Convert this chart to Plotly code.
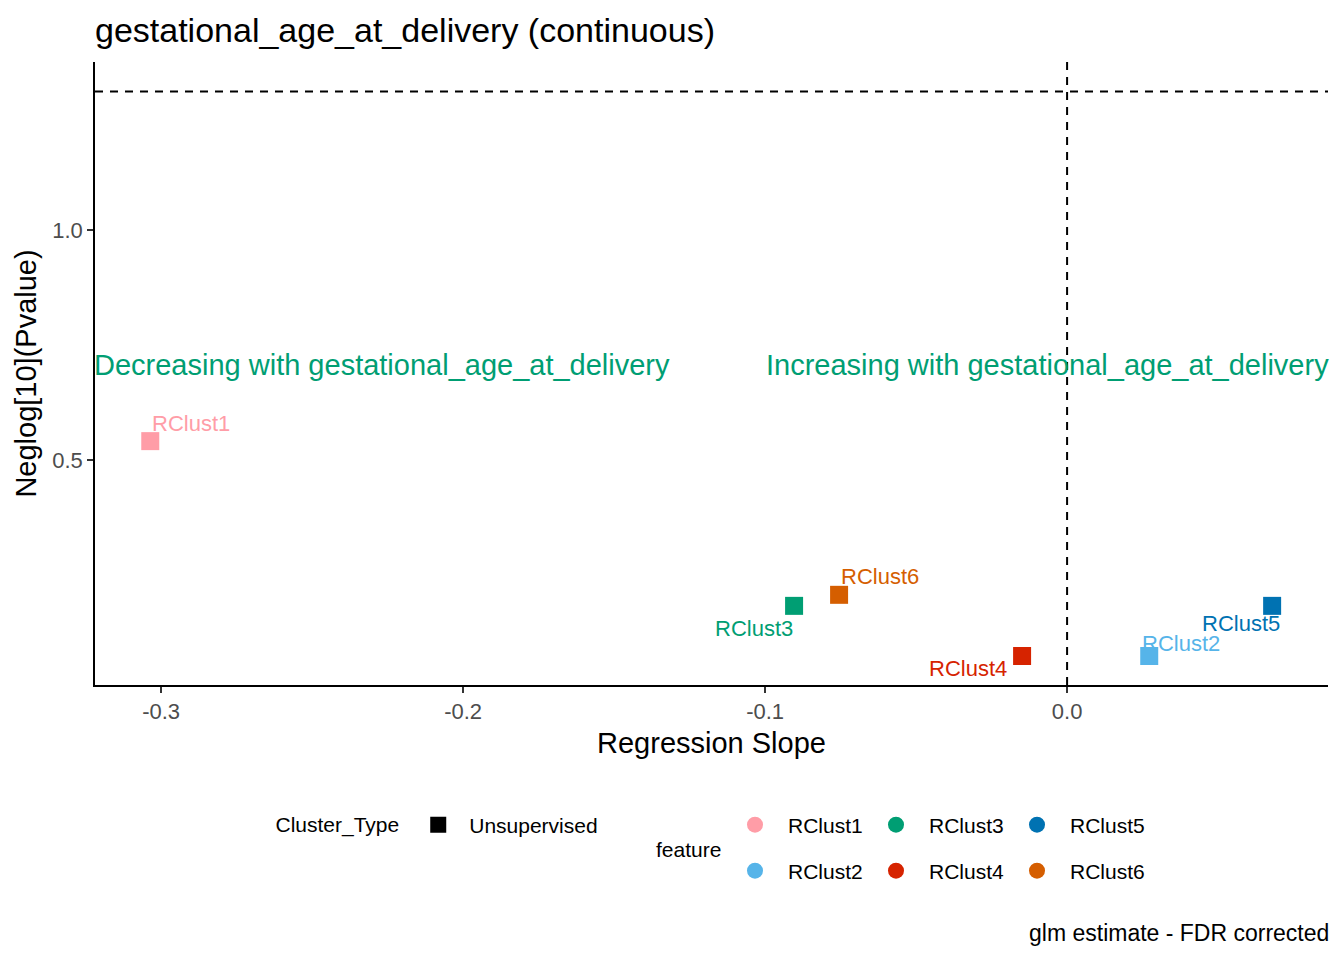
import math
import plotly.graph_objects as go

# values
features = ["RClust1", "RClust2", "RClust3", "RClust4", "RClust5", "RClust6"]
slope = [-0.3036, 0.0272, -0.0904, -0.0149, 0.0679, -0.0755]
neglog_p = [0.541, 0.074, 0.183, 0.074, 0.183, 0.207]
colors = ["#FF9DA7", "#56B4E9", "#009E73", "#D62300", "#0072B2", "#D55E00"]
x_ticks = [-0.3, -0.2, -0.1, 0.0]
y_ticks = [0.5, 1.0]
p_cut = 0.05
direction_y = 0.707

# label nudges (pixels) so the text sits like in the original
label_shift = {
    "RClust1": (41, 18), "RClust2": (32, 13), "RClust3": (-40, -23),
    "RClust4": (-54, -12), "RClust5": (-31, -18), "RClust6": (41, 18),
}

FONT = "Liberation Sans, Arial, sans-serif"
# page has an 8px body margin, so the figure is drawn a bit smaller
W, H = 1336, 952
OFF = 8


def cx(px):
    return (px - OFF) / W


def cy(py):
    return 1 - (py - OFF) / H


fig = go.Figure()

for f, x, y, c in zip(features, slope, neglog_p, colors):
    fig.add_trace(go.Scatter(x=[x], y=[y], mode="markers", name=f,
                             marker=dict(symbol="square", size=18, color=c),
                             showlegend=False, hoverinfo="x+y+name"))
    dx, dy = label_shift[f]
    fig.add_annotation(x=x, y=y, text=f, showarrow=False, xshift=dx, yshift=dy,
                       font=dict(family=FONT, size=22, color=c))

# legend entries (circles for feature, square for cluster type)
fig.add_trace(go.Scatter(x=[None], y=[None], mode="markers", name="Unsupervised",
                         marker=dict(symbol="square", size=16, color="black"),
                         legend="legend"))
row1 = [0, 2, 4]
row2 = [1, 3, 5]
for i in row1:
    fig.add_trace(go.Scatter(x=[None], y=[None], mode="markers", name=features[i],
                             marker=dict(symbol="circle", size=16, color=colors[i]),
                             legend="legend2"))
for i in row2:
    fig.add_trace(go.Scatter(x=[None], y=[None], mode="markers", name=features[i],
                             marker=dict(symbol="circle", size=16, color=colors[i]),
                             legend="legend3"))

p_line = -math.log10(p_cut)
fig.add_hline(y=p_line, line=dict(color="black", width=2, dash="8px,7px"))
fig.add_vline(x=0, line=dict(color="black", width=2, dash="8px,7px"))

fig.add_annotation(xref="paper", x=0, y=direction_y, xanchor="left", showarrow=False,
                   xshift=-3, text="Decreasing with gestational_age_at_delivery",
                   font=dict(family=FONT, size=29, color="#009E73"))
fig.add_annotation(xref="paper", x=1, y=direction_y, xanchor="right", showarrow=False,
                   xshift=3, text="Increasing with gestational_age_at_delivery",
                   font=dict(family=FONT, size=29, color="#009E73"))

fig.add_annotation(xref="paper", yref="paper", x=1, y=(685 - 933) / 623,
                   xanchor="right", yanchor="middle", showarrow=False, xshift=3,
                   text="glm estimate - FDR corrected",
                   font=dict(family=FONT, size=23, color="black"))
fig.add_annotation(xref="paper", yref="paper", x=(688 - 95) / 1233, y=(685 - 849) / 623,
                   xanchor="center", yanchor="middle", showarrow=False,
                   text="feature", font=dict(family=FONT, size=21, color="black"))

leg_common = dict(orientation="h", xref="container", yref="container",
                  xanchor="left", yanchor="middle", bgcolor="rgba(0,0,0,0)",
                  font=dict(family=FONT, size=21, color="black"),
                  itemsizing="trace")

fig.update_layout(
    width=W, height=H,
    plot_bgcolor="white", paper_bgcolor="white",
    margin=dict(l=95 - OFF, r=16, t=62 - OFF, b=H - (685 - OFF)),
    font=dict(family=FONT, color="black"),
    title=dict(text="gestational_age_at_delivery (continuous)", x=cx(95), xanchor="left",
               y=cy(30), yanchor="middle", font=dict(family=FONT, size=34, color="black")),
    xaxis=dict(range=[-0.3219, 0.0864], tickvals=x_ticks,
               ticktext=[f"{v:.1f}" for v in x_ticks],
               showgrid=False, zeroline=False, showline=True, linecolor="black", linewidth=1.5,
               ticks="outside", ticklen=6, tickcolor="#333333", tickwidth=1.5,
               tickfont=dict(family=FONT, size=22, color="#4D4D4D"),
               title=dict(text="Regression Slope", standoff=10,
                          font=dict(family=FONT, size=29, color="black"))),
    yaxis=dict(range=[0.011, 1.365], tickvals=y_ticks,
               ticktext=[f"{v:.1f}" for v in y_ticks],
               showgrid=False, zeroline=False, showline=True, linecolor="black", linewidth=1.5,
               ticks="outside", ticklen=6, tickcolor="#333333", tickwidth=1.5,
               tickfont=dict(family=FONT, size=22, color="#4D4D4D"),
               title=dict(text="Neglog[10](Pvalue)", standoff=7,
                          font=dict(family=FONT, size=29, color="black"))),
    legend=dict(leg_common, x=cx(273.5), y=cy(825), itemwidth=52,
                title=dict(text="Cluster_Type", side="left",
                           font=dict(family=FONT, size=21, color="black"))),
    legend2=dict(leg_common, x=cx(722), y=cy(825), itemwidth=56,
                 entrywidthmode="pixels", entrywidth=70),
    legend3=dict(leg_common, x=cx(722), y=cy(871), itemwidth=56,
                 entrywidthmode="pixels", entrywidth=70),
)

fig.write_html("out.html")
